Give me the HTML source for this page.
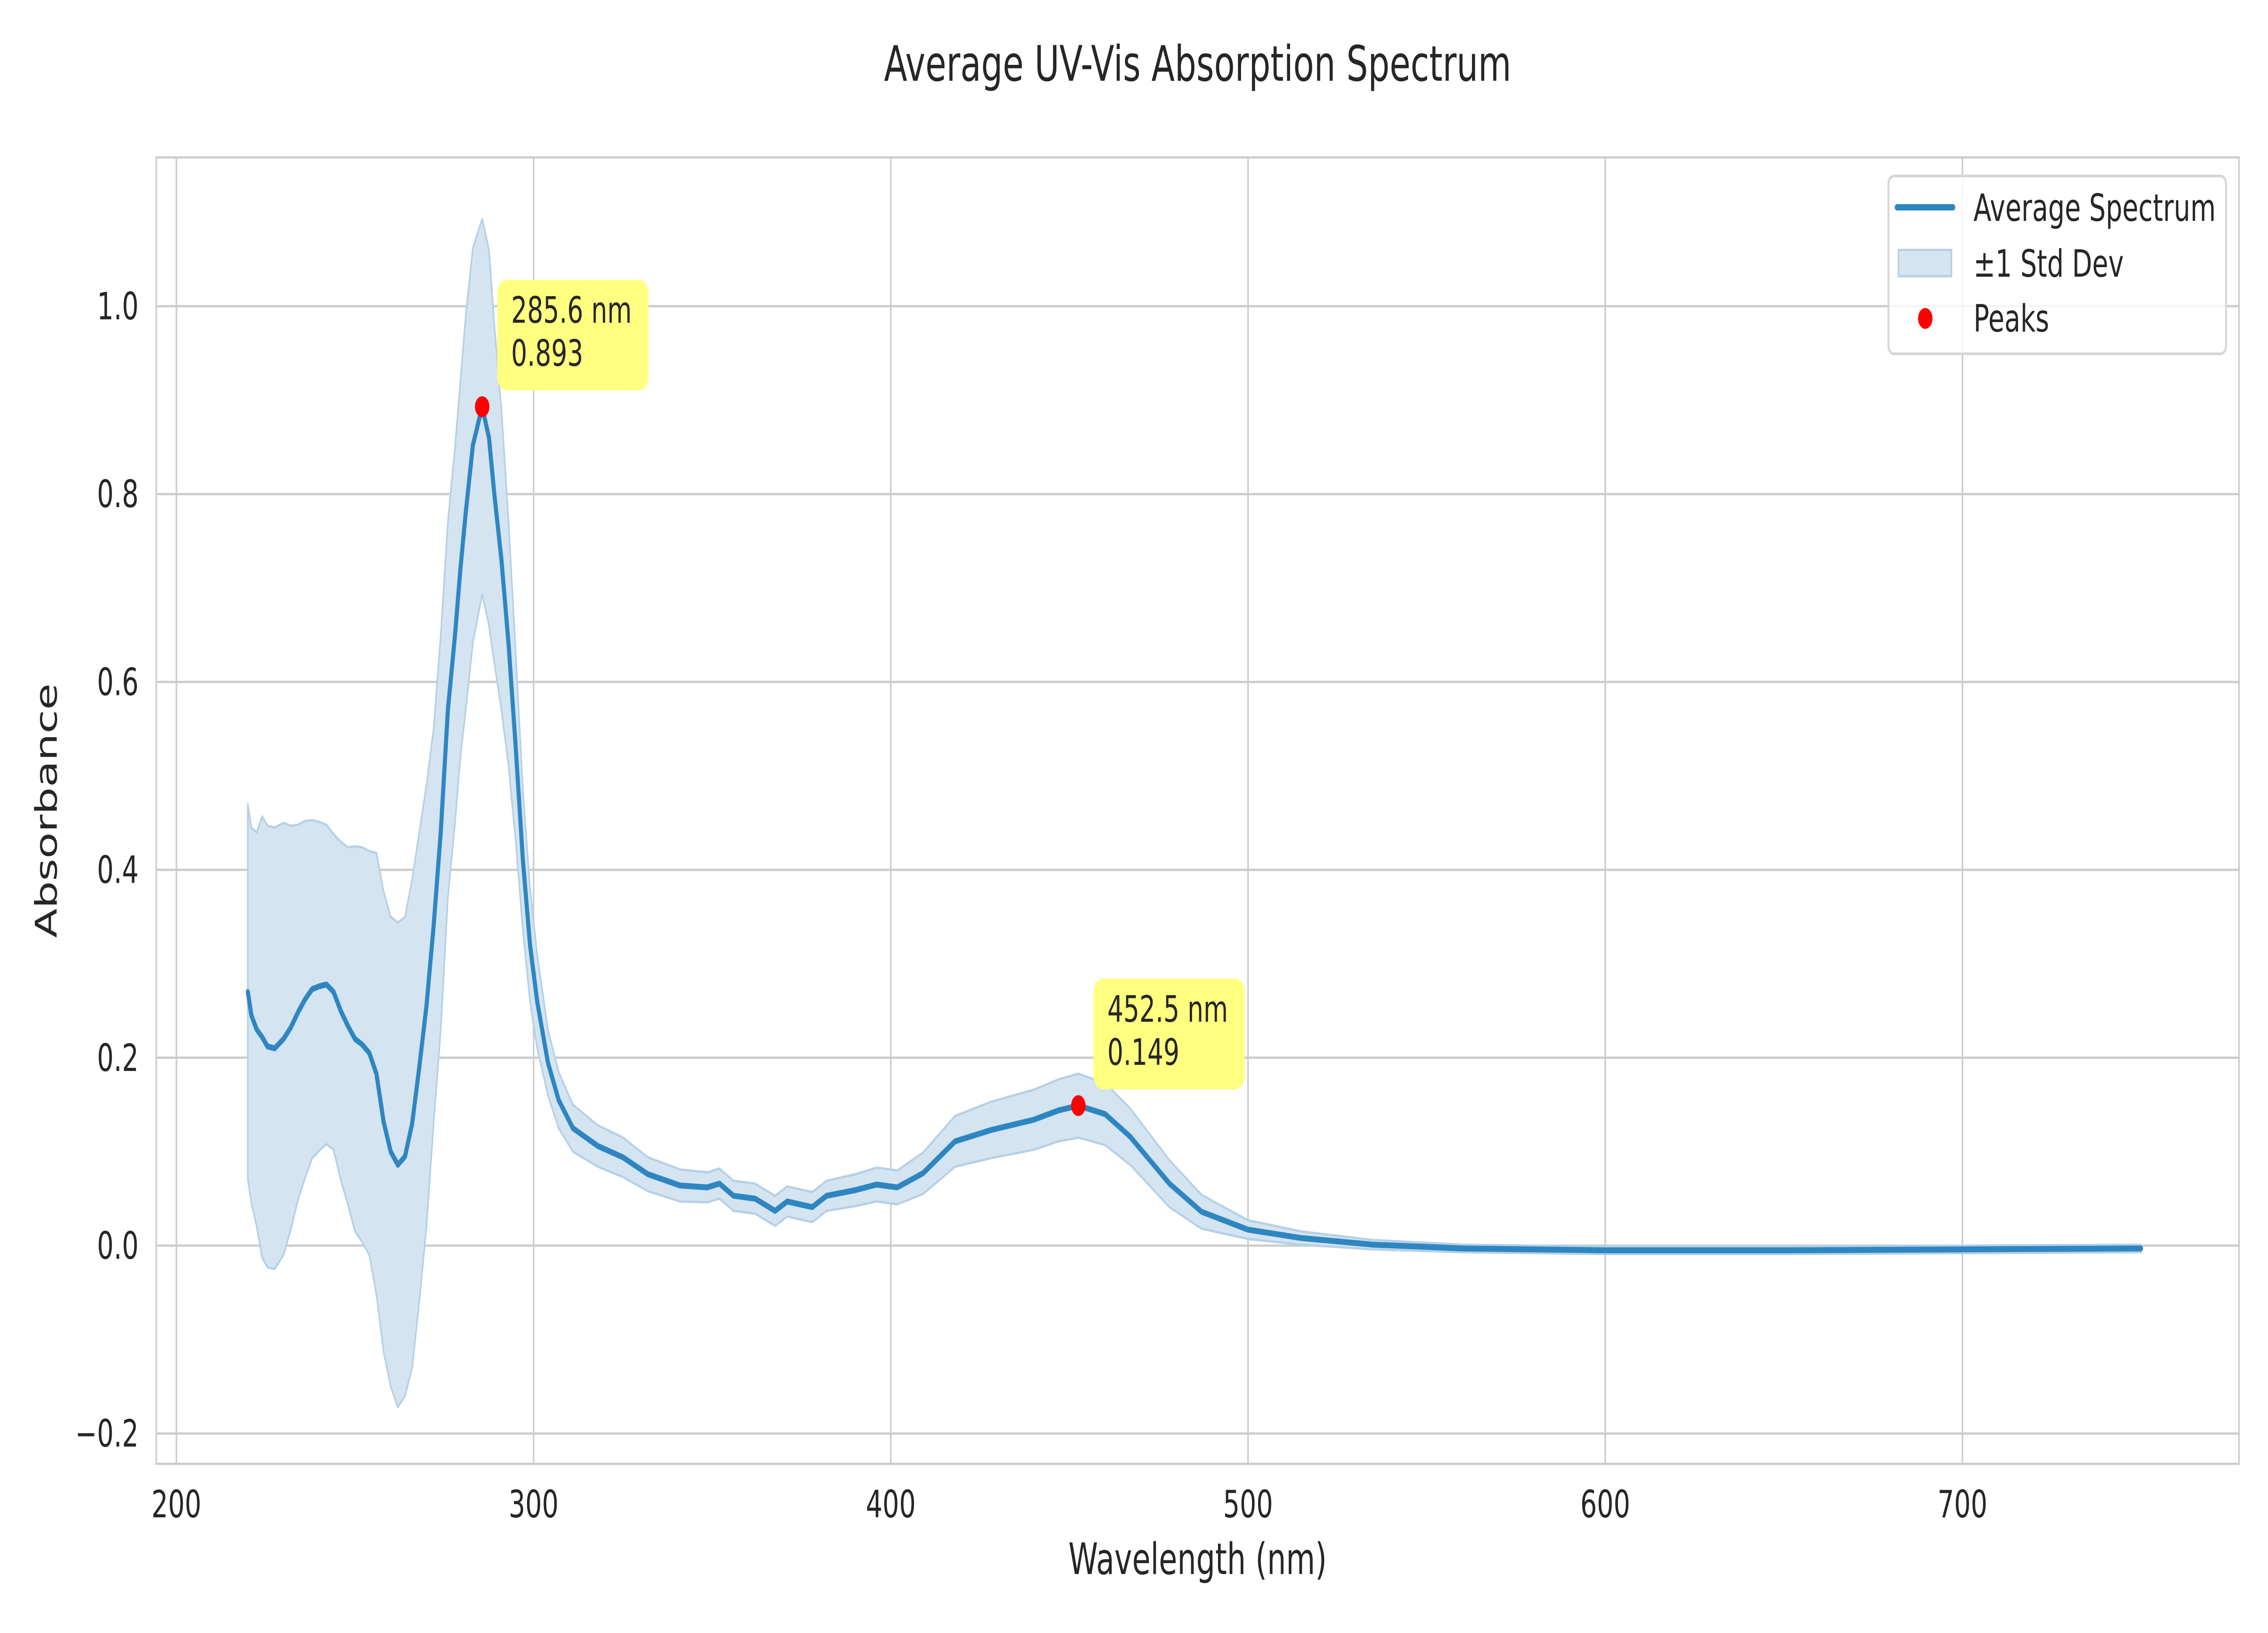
<!DOCTYPE html>
<html><head><meta charset="utf-8"><style>
html,body{margin:0;padding:0;background:#fff;width:100%;height:100%;overflow:hidden;}
svg{display:block;width:100vw;height:100vh;font-family:"DejaVu Sans","Liberation Sans",sans-serif;}
</style></head><body>
<svg id="chart" viewBox="0 0 7200 3600" preserveAspectRatio="none" xmlns="http://www.w3.org/2000/svg">
<rect width="7200" height="3600" fill="#fff"/>
<g id="grid"></g>
<g id="band"></g>
<g id="line"></g>
<g id="peaks"></g>
<g id="ticks"></g>
<rect x="496" y="347" width="6612" height="2880" fill="none" stroke="#cccccc" stroke-width="5"/>
<text x="3802" y="178" font-size="108" text-anchor="middle" fill="#262626">Average UV-Vis Absorption Spectrum</text>
<text x="3802" y="3470" font-size="95" text-anchor="middle" fill="#262626">Wavelength (nm)</text>
<text x="180" y="1787" font-size="95" text-anchor="middle" fill="#262626" transform="rotate(-90 180 1787)">Absorbance</text>
<g>
<rect x="5995" y="388" width="1072" height="392" rx="18" fill="#fff" fill-opacity="0.8" stroke="#d6d6d6" stroke-width="6"/>
<line x1="6022" y1="457" x2="6200" y2="457" stroke="#2e86c1" stroke-width="14" stroke-linecap="round"/>
<text x="6265" y="487" font-size="83" fill="#262626">Average Spectrum</text>
<rect x="6027" y="551" width="168" height="58" fill="#d4e4f1" stroke="#b5d0e6" stroke-width="5"/>
<text x="6265" y="610" font-size="83" fill="#262626">±1 Std Dev</text>
<ellipse cx="6112" cy="702" rx="23" ry="23" fill="#ff0000"/>
<text x="6265" y="731" font-size="83" fill="#262626">Peaks</text>
</g>
</svg>
<script>
const wavelengths=[220,221,222.5,224,225.5,227.5,230,232,234,236,238,240,242,244,246,248,250,252,254,256,258,260,262,264,266,268,270,272,274,276,278,279.5,281,283,285.6,287.5,289,291,293,295,297,299,301,304,307,311,318,325,332,341,348.6,352,356,362,367.6,371,378,382,390,396,401.8,409,418,428,440,447,452.5,460,467,478,487,500,515,535,560,600,650,700,750];
const meanAbs=[0.270,0.245,0.230,0.222,0.212,0.210,0.220,0.232,0.248,0.262,0.273,0.276,0.278,0.270,0.250,0.234,0.220,0.214,0.205,0.183,0.132,0.100,0.086,0.095,0.130,0.190,0.255,0.340,0.440,0.570,0.650,0.720,0.780,0.852,0.893,0.860,0.800,0.730,0.640,0.530,0.410,0.320,0.260,0.195,0.155,0.125,0.106,0.094,0.076,0.064,0.062,0.066,0.053,0.050,0.037,0.047,0.041,0.053,0.059,0.065,0.062,0.077,0.111,0.123,0.134,0.144,0.149,0.140,0.116,0.066,0.036,0.017,0.008,0.001,-0.003,-0.005,-0.005,-0.004,-0.003];
const stdAbs=[0.200,0.200,0.210,0.235,0.235,0.235,0.230,0.215,0.200,0.190,0.180,0.175,0.170,0.168,0.180,0.190,0.205,0.210,0.215,0.235,0.245,0.250,0.258,0.255,0.260,0.250,0.235,0.210,0.210,0.200,0.200,0.200,0.210,0.210,0.200,0.200,0.180,0.160,0.130,0.100,0.075,0.060,0.050,0.035,0.030,0.025,0.022,0.021,0.018,0.017,0.016,0.016,0.016,0.016,0.016,0.016,0.016,0.016,0.017,0.018,0.018,0.022,0.027,0.030,0.032,0.033,0.034,0.033,0.030,0.025,0.018,0.010,0.007,0.005,0.004,0.004,0.004,0.004,0.004];
const peakNm=[285.6,452.5];
const peakAbs=[0.893,0.149];
const xTicks=[200,300,400,500,600,700];
const yTicks=[-0.2,0,0.2,0.4,0.6,0.8,1.0];
const yTickLabels=["−0.2","0.0","0.2","0.4","0.6","0.8","1.0"];

const NS="http://www.w3.org/2000/svg";
const L=496,R=7108,T=347,B=3227;
const xS=v=>560+(v-200)*11.34;
const yS=v=>2746-v*2071;
function mk(tag,attrs,parent){const e=document.createElementNS(NS,tag);for(const k in attrs)e.setAttribute(k,attrs[k]);parent.appendChild(e);return e;}
const grid=document.getElementById('grid'),ticks=document.getElementById('ticks');
xTicks.forEach(t=>{
  const g=mk('line',{x1:xS(t),x2:xS(t),y1:T,y2:B,stroke:'#cccccc','stroke-width':5},grid);
  
  
  const tx=mk('text',{x:xS(t),y:3345,'font-size':83,'text-anchor':'middle',fill:'#262626'},ticks);
  tx.textContent=String(t);
  
  
});
yTicks.forEach((t,i)=>{
  const g=mk('line',{x1:L,x2:R,y1:yS(t),y2:yS(t),stroke:'#cccccc','stroke-width':5},grid);
  
  
  const tx=mk('text',{x:440,y:yS(t)+29,'font-size':83,'text-anchor':'end',fill:'#262626'},ticks);
  tx.textContent=yTickLabels[i];
  
  
});
let up=[],lo=[],mn=[];
wavelengths.forEach((w,i)=>{
  up.push(xS(w).toFixed(1)+','+yS(meanAbs[i]+stdAbs[i]).toFixed(1));
  lo.push(xS(w).toFixed(1)+','+yS(meanAbs[i]-stdAbs[i]).toFixed(1));
  mn.push(xS(w).toFixed(1)+','+yS(meanAbs[i]).toFixed(1));
});
const band=mk('path',{d:'M'+up.join('L')+'L'+lo.reverse().join('L')+'Z',fill:'#d4e4f1',stroke:'#b5d0e6','stroke-width':5,'stroke-linejoin':'round'},document.getElementById('band'));


const line=mk('path',{d:'M'+mn.join('L'),fill:'none',stroke:'#2e86c1','stroke-width':13,'stroke-linejoin':'round','stroke-linecap':'round'},document.getElementById('line'));


const pk=document.getElementById('peaks');
peakNm.forEach((p,i)=>{
  const px=xS(p),py=yS(peakAbs[i]);
  const c=mk('circle',{cx:px,cy:py,r:23,fill:'#ff0000'},pk);
  
  
  const bx=mk('rect',{x:px+48,y:py-280,width:480,height:244,rx:30,fill:'#ffff80'},pk);
  
  
  const t1=mk('text',{x:px+92,y:py-185,'font-size':80,fill:'#262626'},pk);
  t1.textContent=p.toFixed(1)+' nm';
  
  
  const t2=mk('text',{x:px+92,y:py-90,'font-size':80,fill:'#262626'},pk);
  t2.textContent=peakAbs[i].toFixed(3);
  
  
});
</script>
</body></html>
